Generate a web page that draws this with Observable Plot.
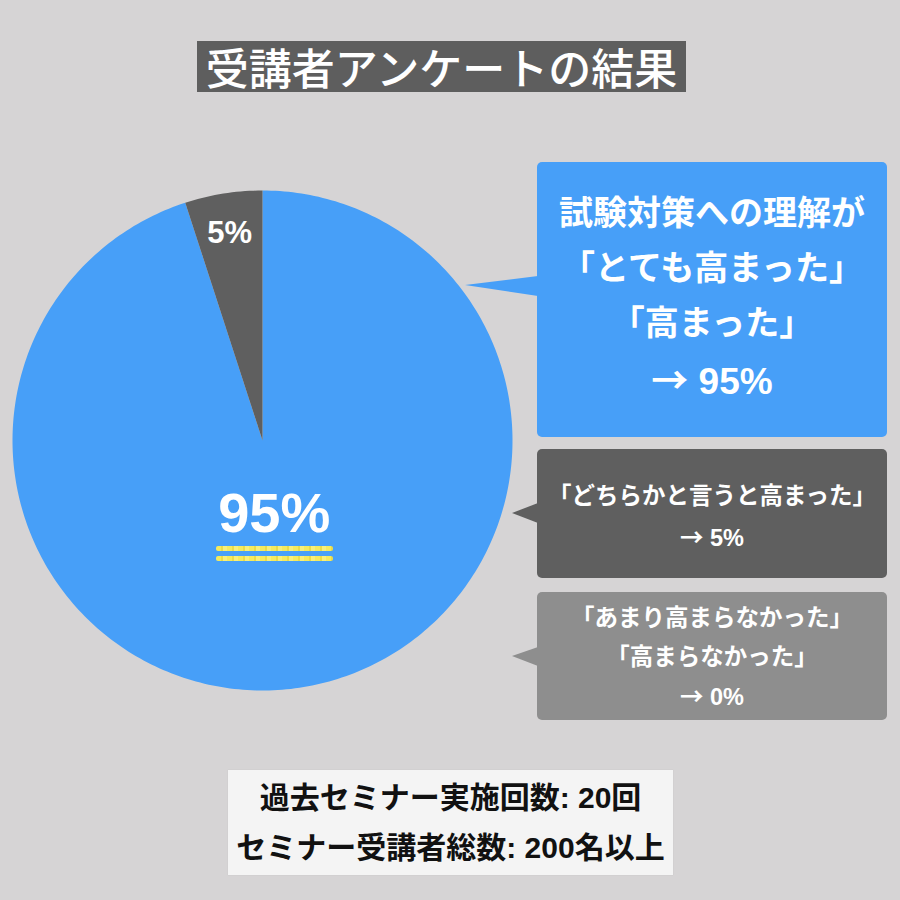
<!DOCTYPE html>
<html>
<head>
<meta charset="utf-8">
<script src="https://cdn.jsdelivr.net/npm/d3@7"></script>
<script src="https://cdn.jsdelivr.net/npm/@observablehq/plot@0.6"></script>
<style>
  html, body { margin: 0; padding: 0; background: #d6d4d5; }
  #wrap { position: relative; width: 900px; height: 900px; overflow: hidden;
    font-family: "Liberation Sans", "Noto Sans CJK JP", sans-serif; }
  #chart { position: absolute; left: 0; top: 0; }
  .abs { position: absolute; box-sizing: border-box; }
  .title { left: 197px; top: 41px; width: 489px; height: 51px; background: #5e5e5e; color: #fff;
    font-family: "Noto Sans CJK JP", sans-serif;
    font-size: 43px; font-weight: 500; line-height: 51px; text-align: center; white-space: nowrap; }
  .box { border-radius: 5px; color: #fff; font-weight: 700; text-align: center; white-space: nowrap;
    display: flex; flex-direction: column; justify-content: center; }
  .arr { font-family: "Noto Sans CJK JP", sans-serif; }
  .ptr { position: absolute; }
  .foot { left: 228px; top: 770px; width: 445px; height: 105px; background: #f4f4f4; color: #111;
    font-size: 30px; font-weight: 700; line-height: 50px; text-align: center; white-space: nowrap;
    display: flex; flex-direction: column; justify-content: center; box-shadow: 0 0 1px #bbb; }
  .hl { position: absolute; height: 5px; border-radius: 2px;
    background: repeating-linear-gradient(90deg, #f4ea5e 0 5px, #e9dc4a 5px 7px, #f7ef7a 7px 11px); }
</style>
</head>
<body>
<div id="wrap">
  <div id="chart"></div>
</div>
<script>
// ---- data ----
const categories = ["とても高まった・高まった", "どちらかと言うと高まった", "あまり高まらなかった・高まらなかった"];
const values = [95, 5, 0];
const sliceColors = ["#479ff8", "#5f5f5f", "#8e8e8e"];
const sliceLabels = ["95%", "5%", ""];
const titleText = "受講者アンケートの結果";
const calloutLines = [
  ["試験対策への理解が", "「とても高まった」", "「高まった」", "→ 95%"],
  ["「どちらかと言うと高まった」", "→ 5%"],
  ["「あまり高まらなかった」", "「高まらなかった」", "→ 0%"]
];
const footLines = ["過去セミナー実施回数: 20回", "セミナー受講者総数: 200名以上"];

// ---- build pie geometry (from data via d3.pie) ----
const arcs = d3.pie().sort(null).value(d => d)(values);
const polys = [];
arcs.forEach((a, i) => {
  if (a.endAngle - a.startAngle <= 0) return;
  polys.push({k: i, x: 0, y: 0, color: sliceColors[i]});
  const n = Math.max(2, Math.ceil((a.endAngle - a.startAngle) / (Math.PI / 180)));
  for (let j = 0; j <= n; j++) {
    const t = a.startAngle + (a.endAngle - a.startAngle) * j / n;
    polys.push({k: i, x: Math.sin(t), y: Math.cos(t), color: sliceColors[i]});
  }
});
const labelR = [0.30, 0.84, 0.8];
const labelSize = [56, 31, 24];
const labels = arcs.map((a, i) => {
  const m = (a.startAngle + a.endAngle) / 2;
  return {x: Math.sin(m) * labelR[i], y: Math.cos(m) * labelR[i], text: sliceLabels[i], size: labelSize[i]};
}).filter(d => d.text);

const chart = Plot.plot({
  width: 900, height: 900, margin: 0,
  style: {background: "#d6d4d5", fontFamily: "Liberation Sans, Noto Sans CJK JP, sans-serif"},
  x: {domain: [-1, 1], range: [12, 512], axis: null},
  y: {domain: [-1, 1], range: [690, 190], axis: null},
  marks: [
    Plot.line(polys, {x: "x", y: "y", z: "k", fill: "color", stroke: "none", curve: "linear"}),
    Plot.text(labels, {x: "x", y: "y", text: "text", fill: "white", fontWeight: "bold",
      fontSize: d => d.size, lineAnchor: "middle"})
  ]
});
document.getElementById("chart").appendChild(chart);

// ---- overlays (title, callouts, footer) ----
const wrap = document.getElementById("wrap");
function add(cls, style, html) {
  const d = document.createElement("div");
  d.className = cls; Object.assign(d.style, style); d.innerHTML = html || "";
  wrap.appendChild(d); return d;
}
add("abs title", {}, titleText);

const boxes = [
  {left: 537, top: 162, w: 350, h: 275, fs: 34, last: 37, lh: 55, ptr: [465, 276, 73, 20, 45], pad: "0 0 4px 0"},
  {left: 537, top: 449, w: 350, h: 129, fs: 23.5, last: 23.5, lh: 40, ptr: [512, 503, 26, 20, 50], pad: "6px 0 0 0"},
  {left: 537, top: 592, w: 350, h: 128, fs: 23.5, last: 23.5, lh: 38.5, ptr: [512, 647, 26, 19, 47], pad: "4px 0 0 0"}
];
boxes.forEach((b, i) => {
  const p = b.ptr;
  add("ptr", {left: p[0] + "px", top: p[1] + "px", width: p[2] + "px", height: p[3] + "px",
    background: sliceColors[i], clipPath: `polygon(0 ${p[4]}%, 100% 0, 100% 100%)`});
  const lines = calloutLines[i].map((t, j) => {
    const last = j === calloutLines[i].length - 1;
    const fs = last ? b.last : b.fs;
    const txt = t.startsWith("→") ? `<span class="arr">→</span>${t.slice(1)}` : t;
    return `<div style="font-size:${fs}px;line-height:${b.lh}px">${txt}</div>`;
  }).join("");
  add("abs box", {left: b.left + "px", top: b.top + "px", width: b.w + "px", height: b.h + "px",
    background: sliceColors[i], padding: b.pad}, lines);
});

add("abs foot", {}, footLines.map(t => `<div>${t}</div>`).join(""));

add("hl", {left: "216px", top: "546px", width: "117px"});
add("hl", {left: "216px", top: "556px", width: "117px"});
</script>
</body>
</html>
